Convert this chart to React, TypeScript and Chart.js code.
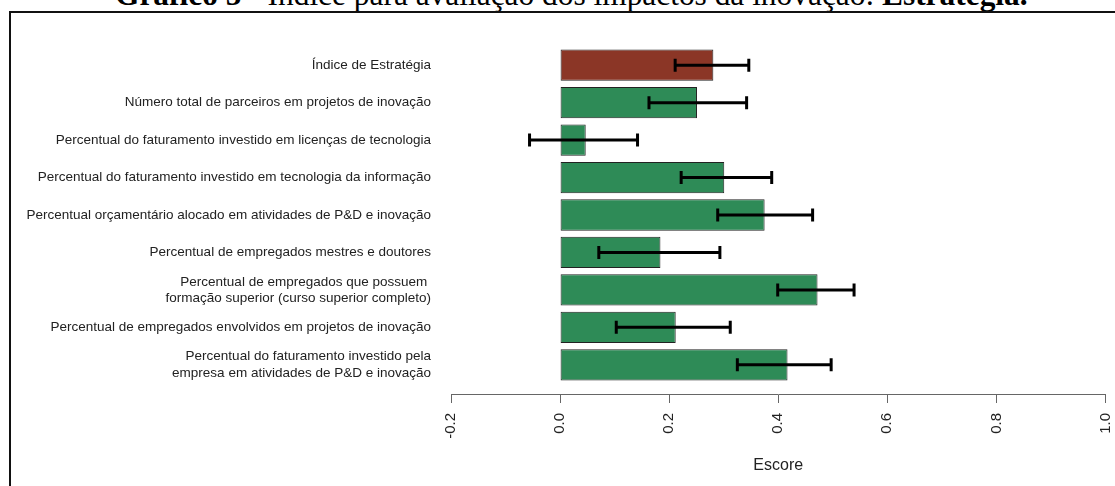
import React, { useEffect, useRef } from 'react';
import { Chart, registerables } from 'chart.js';

Chart.register(...registerables);

const categories: (string | string[])[] = [
  'Índice de Estratégia',
  'Número total de parceiros em projetos de inovação',
  'Percentual do faturamento investido em licenças de tecnologia',
  'Percentual do faturamento investido em tecnologia da informação',
  'Percentual orçamentário alocado em atividades de P&D e inovação',
  'Percentual de empregados mestres e doutores',
  ['Percentual de empregados que possuem ', 'formação superior (curso superior completo)'],
  'Percentual de empregados envolvidos em projetos de inovação',
  ['Percentual do faturamento investido pela', 'empresa em atividades de P&D e inovação'],
];

const scores = [0.281, 0.251, 0.047, 0.301, 0.375, 0.184, 0.472, 0.212, 0.417];
const lowerCI = [0.211, 0.163, -0.056, 0.222, 0.289, 0.071, 0.399, 0.103, 0.325];
const upperCI = [0.346, 0.342, 0.142, 0.388, 0.463, 0.293, 0.539, 0.312, 0.497];

const barColors = ['#8B3626', '#2E8B57', '#2E8B57', '#2E8B57', '#2E8B57', '#2E8B57', '#2E8B57', '#2E8B57', '#2E8B57'];

const xTickValues = [-0.2, 0, 0.2, 0.4, 0.6, 0.8, 1.0];
const xAxisTitle = 'Escore';

export default function App() {
  const ref = useRef<HTMLCanvasElement>(null);

  useEffect(() => {
    const caps: { x: number; y: number }[] = [];
    lowerCI.forEach((l, i) => {
      caps.push({ x: l, y: i });
      caps.push({ x: upperCI[i], y: i });
    });

    const chart = new Chart(ref.current as HTMLCanvasElement, {
      type: 'bar',
      data: {
        datasets: [
          {
            type: 'scatter',
            data: caps,
            showLine: false,
            pointStyle: 'line',
            pointRotation: 90,
            pointRadius: 6.5,
            pointHoverRadius: 6.5,
            pointBorderWidth: 3,
            pointBorderColor: '#000',
            pointBackgroundColor: '#000',
            order: 1,
          } as any,
          {
            type: 'bar',
            data: lowerCI.map((l, i) => ({ x: [l, upperCI[i]], y: i })),
            backgroundColor: '#000',
            borderWidth: 0,
            grouped: false,
            categoryPercentage: 1,
            barPercentage: 0.08,
            order: 2,
          } as any,
          {
            type: 'bar',
            data: scores.map((v, i) => ({ x: v, y: i })),
            backgroundColor: barColors,
            borderColor: '#222',
            borderWidth: 1,
            borderSkipped: false,
            grouped: false,
            categoryPercentage: 1,
            barPercentage: 0.835,
            order: 3,
          } as any,
        ],
      },
      options: {
        indexAxis: 'y',
        responsive: false,
        animation: false,
        events: [],
        layout: { padding: { top: 36, right: 7, bottom: 0, left: 0 } },
        plugins: { legend: { display: false }, tooltip: { enabled: false } },
        scales: {
          x: {
            type: 'linear',
            min: -0.2,
            max: 1.0,
            offset: false,
            afterBuildTicks: (s: any) => {
              s.ticks = xTickValues.map((v) => ({ value: v }));
            },
            afterFit: (s: any) => {
              s.height = 92;
              s.paddingLeft = 0;
              s.paddingRight = 0;
            },
            ticks: {
              minRotation: 90,
              maxRotation: 90,
              padding: 10,
              color: '#222',
              font: { family: '"Liberation Sans", Arial, sans-serif', size: 15 },
              callback: (v: any) => Number(v).toFixed(1),
            },
            grid: { drawOnChartArea: false, drawTicks: true, tickLength: 9, color: '#666', tickWidth: 1 },
            border: { display: true, color: '#666', width: 1 },
            title: {
              display: true,
              text: xAxisTitle,
              color: '#222',
              font: { family: '"Liberation Sans", Arial, sans-serif', size: 16 },
              padding: { top: 0, bottom: 11 },
            },
          },
          y: {
            type: 'linear',
            reverse: true,
            offset: false,
            min: -0.78,
            max: 8.78,
            afterBuildTicks: (s: any) => {
              s.ticks = categories.map((_, i) => ({ value: i }));
            },
            afterFit: (s: any) => {
              s.width = 451;
              s.paddingTop = 0;
              s.paddingBottom = 0;
            },
            ticks: {
              autoSkip: false,
              padding: 20,
              color: '#222',
              font: { family: '"Liberation Sans", Arial, sans-serif', size: 13.5 },
              callback: (v: any) => categories[Math.round(Number(v))],
            },
            grid: { display: false, drawTicks: false },
            border: { display: false },
          },
        },
      },
    } as any);

    return () => chart.destroy();
  }, []);

  return (
    <div style={{ position: 'fixed', left: 0, top: 0, width: 1115, height: 486, overflow: 'hidden', background: '#fff' }}>
      <div
        style={{
          position: 'absolute',
          left: 115,
          top: -21,
          whiteSpace: 'nowrap',
          fontFamily: '"Liberation Serif", "Times New Roman", serif',
          fontSize: 31.4,
          lineHeight: 1,
          color: '#000',
        }}
      >
        <b>Gráfico 5 -</b> Índice para avaliação dos impactos da inovação: <b>Estratégia.</b>
      </div>
      <div
        style={{
          position: 'absolute',
          left: 9,
          top: 11,
          width: 1200,
          height: 600,
          borderLeft: '2px solid #111',
          borderTop: '2px solid #111',
        }}
      />
      <canvas ref={ref} width={1115} height={486} style={{ position: 'absolute', left: 0, top: 0 }} />
    </div>
  );
}
